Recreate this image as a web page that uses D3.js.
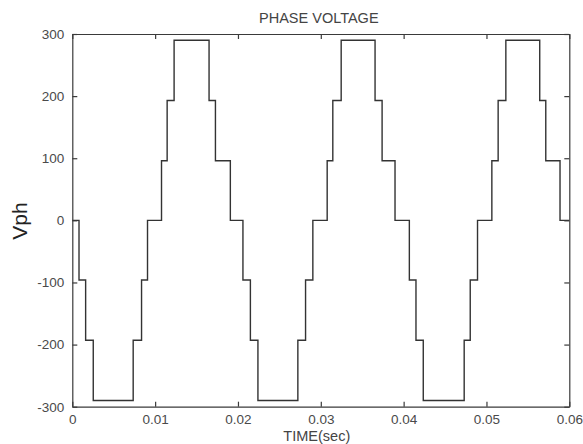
<!DOCTYPE html>
<html>
<head>
<meta charset="utf-8">
<script src="https://cdn.jsdelivr.net/npm/d3@7"></script>
<style>
  html, body { margin: 0; padding: 0; background: #fff; }
  svg { display: block; }
  text { font-family: "Liberation Sans", Arial, sans-serif; }
</style>
</head>
<body>
<svg id="chart" width="583" height="444"></svg>
<script>
// Switching instants (s) where the phase voltage steps to a new level
const switchTimes = [0, 0.00081, 0.00161, 0.00253, 0.00735, 0.00836, 0.00908,
  0.01077, 0.01145, 0.01229, 0.01651, 0.01728, 0.01908,
  0.0206, 0.0215, 0.02241, 0.02723, 0.02816, 0.02904,
  0.03077, 0.03145, 0.03246, 0.03655, 0.0374, 0.03896,
  0.04069, 0.04149, 0.04237, 0.04731, 0.04804, 0.04892,
  0.05065, 0.05141, 0.05234, 0.05643, 0.05716, 0.05888, 0.06];
// Voltage level (V) held from each switching instant
const levels = [0, -96, -193, -290, -193, -96, 0,
  96, 193, 290, 193, 96, 0,
  -96, -193, -290, -193, -96, 0,
  96, 193, 290, 193, 96, 0,
  -96, -193, -290, -193, -96, 0,
  96, 193, 290, 193, 96, 0, 0];
const xTicks = [0, 0.01, 0.02, 0.03, 0.04, 0.05, 0.06];
const xTickLabels = ["0", "0.01", "0.02", "0.03", "0.04", "0.05", "0.06"];
const yTicks = [-300, -200, -100, 0, 100, 200, 300];
const yTickLabels = ["-300", "-200", "-100", "0", "100", "200", "300"];
const title = "PHASE VOLTAGE";
const xLabel = "TIME(sec)";
const yLabel = "Vph";

const svg = d3.select("#chart");
const L = 72.3, R = 569.3, T = 34, B = 406.7;
const x = d3.scaleLinear().domain([0, 0.06]).range([L, R]);
const y = d3.scaleLinear().domain([-300, 300]).range([B, T]);

const axisColor = "#3a3a3a";
const labelColor = "#4a4a4a";

// data line
const pts = switchTimes.map((t, i) => [t, levels[i]]);
const line = d3.line().x(d => x(d[0])).y(d => y(d[1])).curve(d3.curveStepAfter);
svg.append("path").datum(pts)
  .attr("d", line)
  .attr("fill", "none")
  .attr("stroke", "#333")
  .attr("stroke-width", 1.4);

// axes with inward ticks on all four sides
const tl = 5;
const gB = svg.append("g").attr("transform", `translate(0,${B})`)
  .call(d3.axisBottom(x).tickValues(xTicks).tickSizeInner(-tl).tickSizeOuter(0)
    .tickPadding(8).tickFormat((d, i) => xTickLabels[i]));
const gT = svg.append("g").attr("transform", `translate(0,${T})`)
  .call(d3.axisTop(x).tickValues(xTicks).tickSizeInner(-tl).tickSizeOuter(0).tickFormat(""));
const gL = svg.append("g").attr("transform", `translate(${L},0)`)
  .call(d3.axisLeft(y).tickValues(yTicks).tickSizeInner(-tl).tickSizeOuter(0)
    .tickPadding(8).tickFormat((d, i) => yTickLabels[i]));
const gR = svg.append("g").attr("transform", `translate(${R},0)`)
  .call(d3.axisRight(y).tickValues(yTicks).tickSizeInner(-tl).tickSizeOuter(0).tickFormat(""));

[gB, gT, gL, gR].forEach(g => {
  g.selectAll(".domain").attr("stroke", axisColor).attr("stroke-width", 1.2);
  g.selectAll(".tick line").attr("stroke", axisColor).attr("stroke-width", 1.2);
  g.selectAll(".tick text").attr("fill", labelColor)
    .style("font-size", "13.5px")
    .style("font-family", '"Liberation Sans", Arial, sans-serif');
});

// title
svg.append("text").attr("x", (L + R) / 2 - 2).attr("y", 23)
  .attr("text-anchor", "middle").attr("fill", "#444")
  .style("font-size", "14.5px").text(title);

// x label
svg.append("text").attr("x", (L + R) / 2 - 4).attr("y", 441)
  .attr("text-anchor", "middle").attr("fill", "#444")
  .style("font-size", "14.5px").text(xLabel);

// y label
svg.append("text")
  .attr("transform", `translate(27,221) rotate(-90)`)
  .attr("text-anchor", "middle").attr("fill", "#222")
  .style("font-size", "21px").text(yLabel);
</script>
</body>
</html>
